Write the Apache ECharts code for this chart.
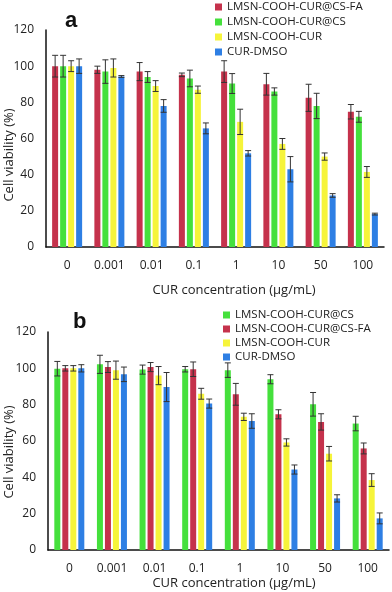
<!DOCTYPE html>
<html>
<head>
<meta charset="UTF-8">
<title>Cell viability</title>
<script src="https://cdn.jsdelivr.net/npm/echarts@6/dist/echarts.min.js"></script>
<style>
    html, body { margin: 0; padding: 0; background: #fff; }
    #chart { width: 392px; height: 592px; }
</style>
</head>
<body>
<div id="chart"></div>
<script type="text/javascript">
    var cats = ['0', '0.001', '0.01', '0.1', '1', '10', '50', '100'];
    var yTicks = [0, 20, 40, 60, 80, 100, 120];

    var nameFA = 'LMSN-COOH-CUR@CS-FA';
    var nameCS = 'LMSN-COOH-CUR@CS';
    var nameCUR = 'LMSN-COOH-CUR';
    var nameDMSO = 'CUR-DMSO';

    // panel a
    var aFA = [100, 98, 97, 95.2, 97, 90, 82.5, 74.8];
    var aFAerr = [6, 2, 5, 1, 6, 6, 7.5, 4];
    var aCS = [100, 97, 94, 93.2, 90.4, 86, 78, 72];
    var aCSerr = [6, 6.5, 3, 4.6, 5.5, 2, 7, 3];
    var aCUR = [100, 99, 89, 87, 69.2, 57, 50, 41.5];
    var aCURerr = [3, 5, 3, 2, 7, 3, 2, 3];
    var aDMSO = [100, 94.3, 78, 65.6, 51.8, 43, 28.5, 18.2];
    var aDMSOerr = [4, 0.5, 3.5, 3, 1.5, 7, 1, 0.5];

    // panel b
    var bCS = [99.8, 102.2, 99.3, 99.5, 99, 94, 80.2, 69.6];
    var bCSerr = [4, 5, 2.5, 1.5, 4, 2.5, 6.5, 4];
    var bFA = [100, 100.7, 100.7, 99.5, 85.7, 74.7, 70.5, 55.9];
    var bFAerr = [1.5, 3, 2.5, 4, 6, 2.5, 4.5, 3];
    var bCUR = [100, 99, 96, 86, 73.3, 59.2, 53, 38.5];
    var bCURerr = [1.5, 5, 5, 3, 2, 2, 4, 3.5];
    var bDMSO = [100, 96.7, 89.7, 80.6, 71, 44.3, 28.4, 17.4];
    var bDMSOerr = [2, 4, 8, 2.5, 4, 2.5, 2, 3];

    var colFA = '#c5324c';
    var colCS = '#45e03c';
    var colCUR = '#f6f43a';
    var colDMSO = '#2e7fe4';

    var barW = 6;
    var barGapPx = 2;
    var font = '"Open Sans", "Noto Sans", sans-serif';

    function barSerie(name, data, color, axisIdx) {
        return {
            name: name, type: 'bar', data: data,
            xAxisIndex: axisIdx, yAxisIndex: axisIdx,
            barWidth: barW, barGap: (barGapPx / barW * 100) + '%',
            itemStyle: { color: color }
        };
    }

    function errSerie(vals, errs, slot, axisIdx) {
        var d = [];
        for (var i = 0; i < vals.length; i++) {
            d.push([i, vals[i], errs[i]]);
        }
        var groupW = 4 * barW + 3 * barGapPx;
        var off = -groupW / 2 + barW / 2 + slot * (barW + barGapPx);
        return {
            type: 'custom', data: d, z: 10,
            xAxisIndex: axisIdx, yAxisIndex: axisIdx,
            silent: true,
            renderItem: function (params, api) {
                var idx = api.value(0), v = api.value(1), e = api.value(2);
                var top = api.coord([idx, v + e]);
                var bot = api.coord([idx, v - e]);
                var x = top[0] + off;
                var hw = 3;
                var st = { stroke: '#333', lineWidth: 1 };
                return {
                    type: 'group',
                    children: [
                        { type: 'line', shape: { x1: x, y1: top[1], x2: x, y2: bot[1] }, style: st },
                        { type: 'line', shape: { x1: x - hw, y1: top[1], x2: x + hw, y2: top[1] }, style: st },
                        { type: 'line', shape: { x1: x - hw, y1: bot[1], x2: x + hw, y2: bot[1] }, style: st }
                    ]
                };
            }
        };
    }

    function xAx(gi) {
        return {
            type: 'category', data: cats, gridIndex: gi,
            axisLine: { lineStyle: { color: '#111', width: 1.5 } },
            axisTick: { show: false },
            axisLabel: { color: '#222', fontSize: 12, fontFamily: font, margin: 13 }
        };
    }

    function yAx(gi) {
        return {
            type: 'value', gridIndex: gi, min: yTicks[0], max: yTicks[yTicks.length - 1], interval: 20,
            axisLine: { show: true, lineStyle: { color: '#111', width: 1.5 } },
            axisTick: { show: false },
            splitLine: { show: false },
            axisLabel: { color: '#222', fontSize: 12, fontFamily: font, margin: 12 }
        };
    }

    function legendAt(left, top, gap, names, colors) {
        var items = [];
        for (var i = 0; i < names.length; i++) {
            items.push({ name: names[i], itemStyle: { color: colors[i] } });
        }
        return {
            orient: 'vertical', left: left, top: top,
            itemWidth: 7, itemHeight: 7, itemGap: gap,
            icon: 'rect',
            textStyle: { color: '#222', fontSize: 11.5, fontFamily: font, padding: [0, 0, 0, 0] },
            data: items
        };
    }

    var chart = echarts.init(document.getElementById('chart'));
    var option = {
        animation: false,
        backgroundColor: '#fff',
        grid: [
            { left: 46, right: 8, top: 30, height: 217 },
            { left: 48, right: 3, top: 332, height: 218 }
        ],
        xAxis: [xAx(0), xAx(1)],
        yAxis: [yAx(0), yAx(1)],
        legend: [
            legendAt(210, -4, 3, [nameFA, nameCS, nameCUR, nameDMSO], [colFA, colCS, colCUR, colDMSO]),
            legendAt(218, 304, 2, [nameCS + ' ', nameFA + ' ', nameCUR + ' ', nameDMSO + ' '], [colCS, colFA, colCUR, colDMSO])
        ],
        graphic: [
            { type: 'text', left: 65, top: 10, style: { text: 'a', font: 'bold 22px "Liberation Sans", Arial', fill: '#111' } },
            { type: 'text', left: 73, top: 311, style: { text: 'b', font: 'bold 22px "Liberation Sans", Arial', fill: '#111' } },
            { type: 'text', x: 9, y: 155, rotation: Math.PI / 2, style: { text: 'Cell viability (%)', font: '13px "Open Sans"', fill: '#222', align: 'center', verticalAlign: 'middle' } },
            { type: 'text', x: 9, y: 452, rotation: Math.PI / 2, style: { text: 'Cell viability (%)', font: '13px "Open Sans"', fill: '#222', align: 'center', verticalAlign: 'middle' } },
            { type: 'text', x: 234, y: 290, style: { text: 'CUR concentration (μg/mL)', font: '13px "Open Sans"', fill: '#222', align: 'center', verticalAlign: 'middle' } },
            { type: 'text', x: 234, y: 583, style: { text: 'CUR concentration (μg/mL)', font: '13px "Open Sans"', fill: '#222', align: 'center', verticalAlign: 'middle' } }
        ],
        series: [
            barSerie(nameFA, aFA, colFA, 0),
            barSerie(nameCS, aCS, colCS, 0),
            barSerie(nameCUR, aCUR, colCUR, 0),
            barSerie(nameDMSO, aDMSO, colDMSO, 0),
            errSerie(aFA, aFAerr, 0, 0),
            errSerie(aCS, aCSerr, 1, 0),
            errSerie(aCUR, aCURerr, 2, 0),
            errSerie(aDMSO, aDMSOerr, 3, 0),

            barSerie(nameCS + ' ', bCS, colCS, 1),
            barSerie(nameFA + ' ', bFA, colFA, 1),
            barSerie(nameCUR + ' ', bCUR, colCUR, 1),
            barSerie(nameDMSO + ' ', bDMSO, colDMSO, 1),
            errSerie(bCS, bCSerr, 0, 1),
            errSerie(bFA, bFAerr, 1, 1),
            errSerie(bCUR, bCURerr, 2, 1),
            errSerie(bDMSO, bDMSOerr, 3, 1)
        ]
    };
    chart.setOption(option);
</script>
</body>
</html>
